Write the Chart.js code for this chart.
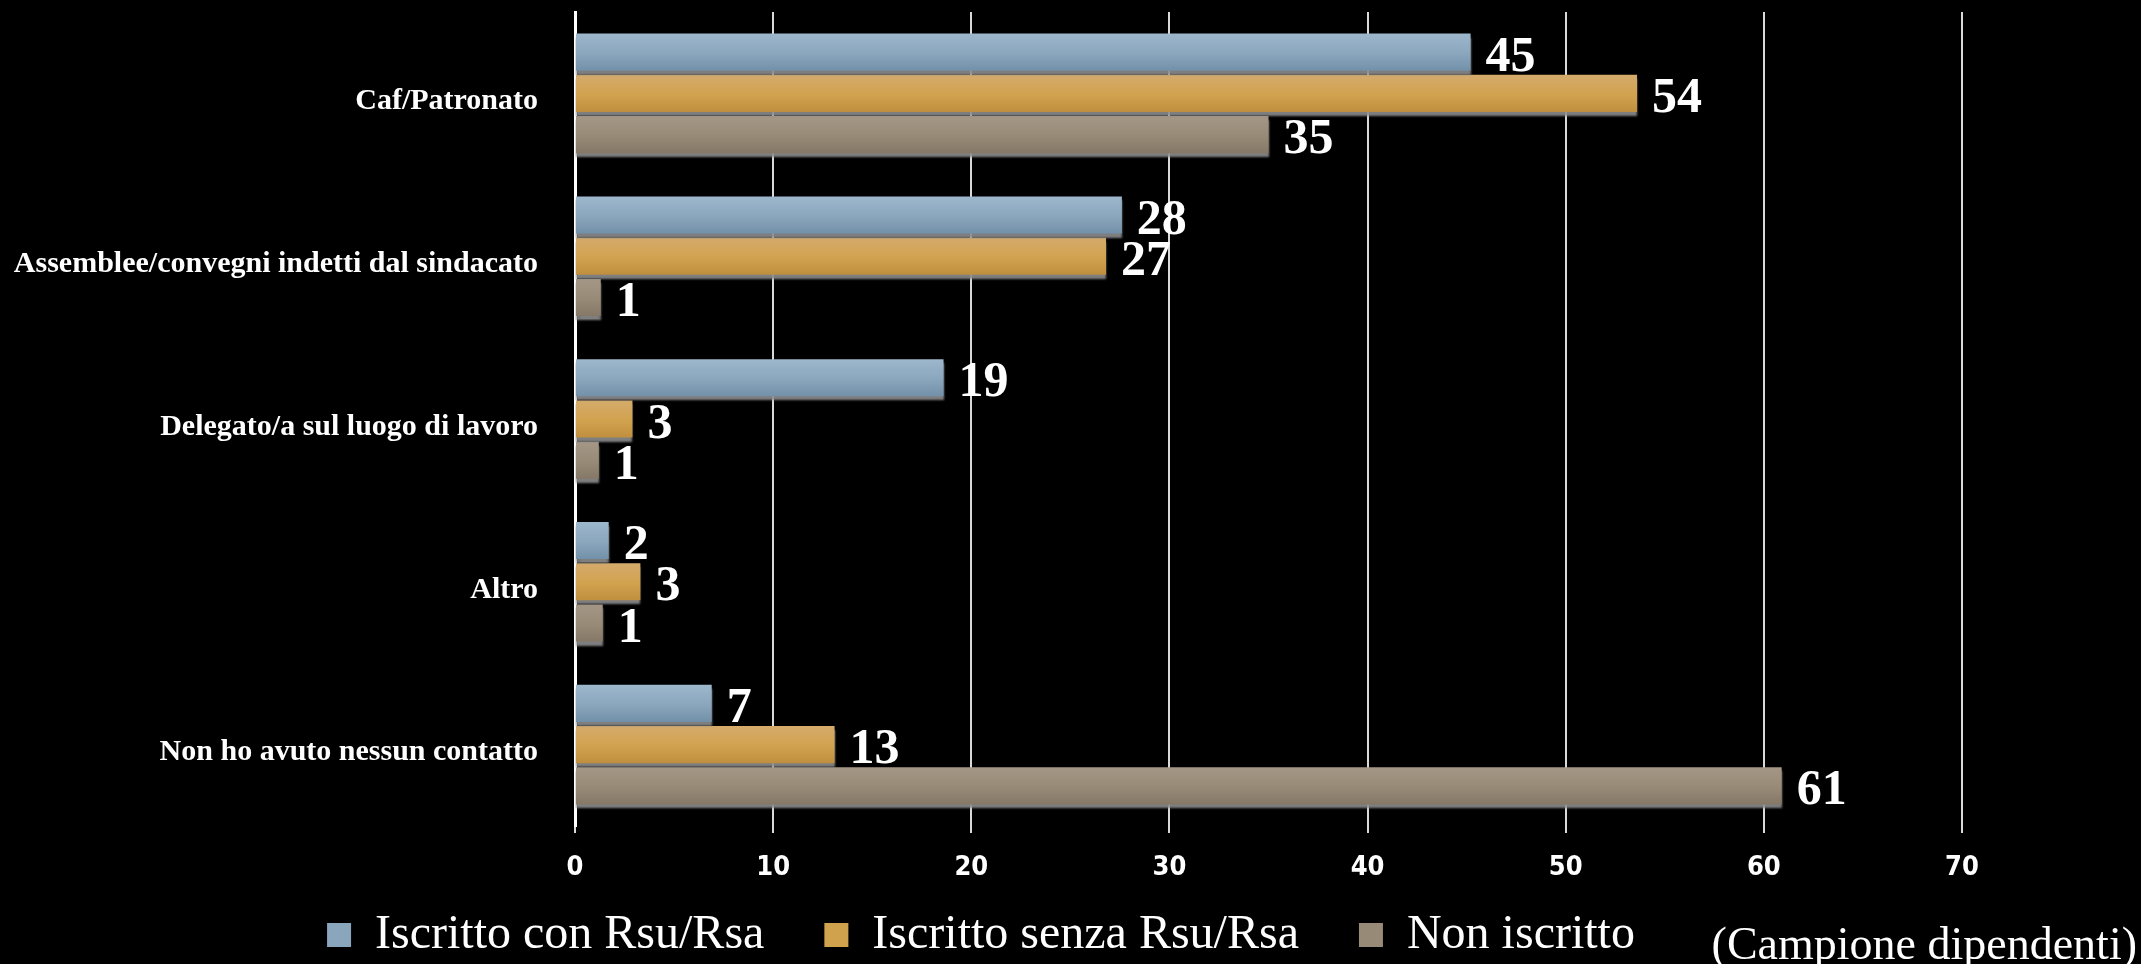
<!DOCTYPE html>
<html>
<head>
<meta charset="utf-8">
<script src="https://cdn.jsdelivr.net/npm/chart.js@4.4.0/dist/chart.umd.min.js"></script>
<style>
  html, body { margin: 0; padding: 0; background: #000; overflow: hidden; }
  canvas { display: block; }
</style>
</head>
<body>
<canvas id="grafico" width="2141" height="964"></canvas>
<script>
// dati (le barre non sono interi, le etichette sono arrotondate)
const categorie = [
  'Caf/Patronato',
  'Assemblee/convegni indetti dal sindacato',
  'Delegato/a sul luogo di lavoro',
  'Altro',
  'Non ho avuto nessun contatto'
];
const conRsu = [45.2, 27.6, 18.6, 1.7, 6.9];
const senzaRsu = [53.6, 26.8, 2.9, 3.3, 13.1];
const nonIscritto = [35.0, 1.3, 1.2, 1.4, 60.9];
const tickX = [0, 10, 20, 30, 40, 50, 60, 70];
const nota = '(Campione dipendenti)';

// sfumature verticali delle barre: [alto, centro, basso]
const sfumature = [
  ['#9db7cc', '#8aa6bd', '#7290a9'],
  ['#d5ab6c', '#d1a24e', '#bf8f3f'],
  ['#a49785', '#978a77', '#867866']
];

const serif = "'Liberation Serif', 'Times New Roman', serif";

const pluginBarre = {
  id: 'barre',
  beforeDatasetsDraw(chart) {
    const ctx = chart.ctx;
    chart.data.datasets.forEach((ds, i) => {
      const meta = chart.getDatasetMeta(i);
      const s = sfumature[i];
      meta.data.forEach(bar => {
        const top = bar.y - bar.height / 2;
        const g = ctx.createLinearGradient(0, top, 0, top + bar.height);
        g.addColorStop(0, s[0]);
        g.addColorStop(0.55, s[1]);
        g.addColorStop(1, s[2]);
        bar.options = Object.assign({}, bar.options, { backgroundColor: g });
      });
    });
    // ombra grigia sotto le barre
    ctx.save();
    ctx.shadowColor = 'rgba(140,140,140,0.9)';
    ctx.shadowOffsetX = 0;
    ctx.shadowOffsetY = 4;
    ctx.shadowBlur = 2;
  },
  afterDatasetsDraw(chart) {
    const ctx = chart.ctx;
    ctx.restore();
    // valori a destra delle barre, con la base allineata al fondo della barra
    ctx.save();
    ctx.fillStyle = '#fff';
    ctx.font = 'bold 50px ' + serif;
    ctx.textAlign = 'left';
    ctx.textBaseline = 'alphabetic';
    chart.data.datasets.forEach((ds, i) => {
      chart.getDatasetMeta(i).data.forEach((bar, j) => {
        ctx.fillText(String(Math.round(ds.data[j])), bar.x + 15, bar.y + bar.height / 2);
      });
    });
    ctx.restore();
  },
  afterDraw(chart) {
    const ctx = chart.ctx;
    ctx.save();
    ctx.fillStyle = '#fff';
    ctx.font = '46px ' + serif;
    ctx.textAlign = 'right';
    ctx.textBaseline = 'alphabetic';
    ctx.fillText(nota, 2137, 959);
    ctx.restore();
  }
};

new Chart(document.getElementById('grafico'), {
  type: 'bar',
  data: {
    labels: categorie,
    datasets: [
      { label: 'Iscritto con Rsu/Rsa', data: conRsu, backgroundColor: sfumature[0][1] },
      { label: 'Iscritto senza Rsu/Rsa', data: senzaRsu, backgroundColor: sfumature[1][1] },
      { label: 'Non iscritto', data: nonIscritto, backgroundColor: sfumature[2][1] }
    ]
  },
  options: {
    indexAxis: 'y',
    responsive: false,
    animation: false,
    categoryPercentage: 0.76,
    barPercentage: 0.9,
    layout: { padding: { top: 12, right: 179, left: 0, bottom: -5 } },
    scales: {
      x: {
        min: 0,
        max: 70,
        afterBuildTicks: axis => { axis.ticks = tickX.map(v => ({ value: v })); },
        // asse basso e stretto: le etichette stanno sotto (mirror + padding negativo)
        afterFit: axis => { axis.height = 25; },
        grid: { color: '#d9d9d9', lineWidth: 2, tickLength: 7 },
        border: { display: false },
        ticks: {
          color: '#fff',
          mirror: true,
          padding: -58,
          font: { family: "'Liberation Sans Narrow', 'DejaVu Sans Condensed', sans-serif", weight: 'bold', size: 27 }
        }
      },
      y: {
        afterFit: axis => {
          axis.width = 575;
          axis.paddingTop = 0;
          axis.paddingBottom = 0;
        },
        grid: { display: false },
        border: { display: true, color: '#fff', width: 3 },
        ticks: {
          color: '#fff',
          padding: 29,
          labelOffset: 8,
          font: { family: serif, weight: 'bold', size: 30 }
        }
      }
    },
    plugins: {
      legend: {
        position: 'bottom',
        labels: {
          color: '#fff',
          boxWidth: 24,
          boxHeight: 24,
          padding: 60,
          font: { family: serif, size: 48 }
        }
      },
      tooltip: { enabled: false }
    }
  },
  plugins: [pluginBarre]
});
</script>
</body>
</html>
